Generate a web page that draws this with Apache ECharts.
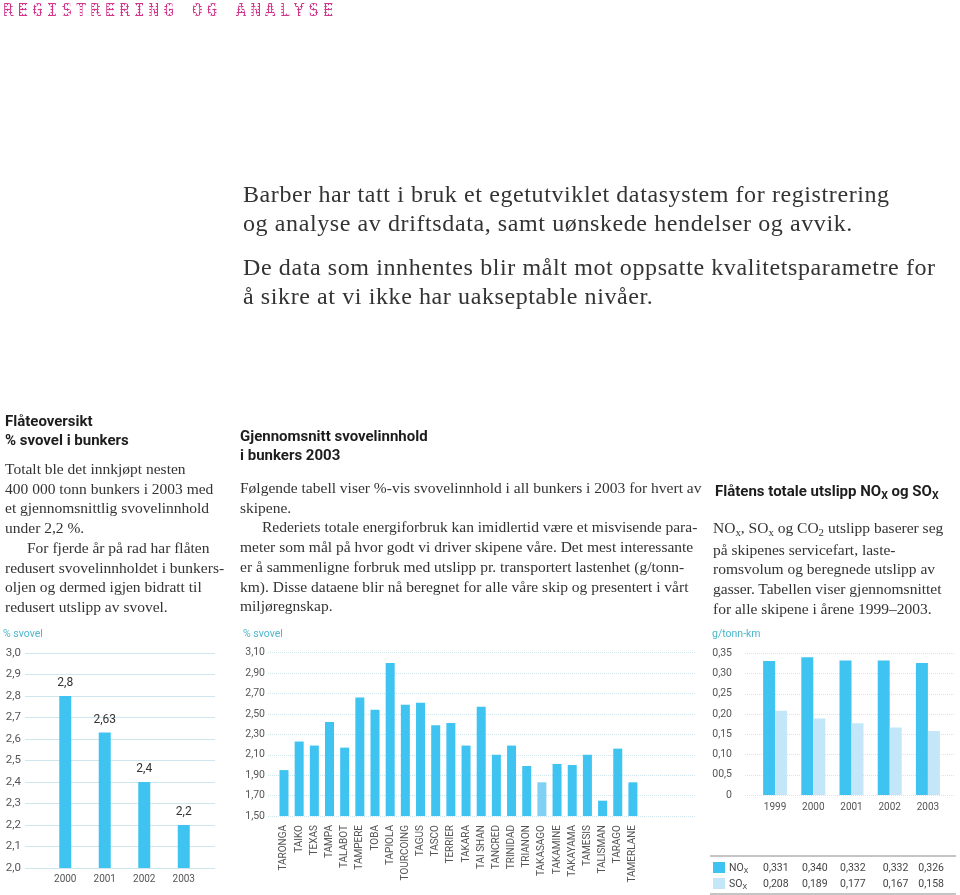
<!DOCTYPE html>
<html>
<head>
<meta charset="utf-8">
<script src="https://cdn.jsdelivr.net/npm/echarts@6.0.0/dist/echarts.min.js"></script>
<style>
  body { margin: 0; background: #fff; }
  #page { position: relative; width: 960px; height: 895px; overflow: hidden; }
  #chart { position: absolute; left: 0; top: 0; width: 960px; height: 895px; }
  .t { position: absolute; white-space: nowrap; }
  .hdr {
    left: 3px; top: -1px; font: bold 18px "DejaVu Sans Mono"; letter-spacing: 3.7px;
    background: radial-gradient(circle, #d2368a 55%, rgba(255,255,255,0) 68%);
    background-size: 3px 3px;
    -webkit-background-clip: text; background-clip: text; color: transparent;
  }
  .intro { font: 24px/28.5px "Liberation Serif"; letter-spacing: 0.6px; color: #333; }
  .head { font: bold 15px/19px Roboto; color: #1d1d1d; }
  .body { font: 15.5px/19.7px "Liberation Serif"; color: #333; }
  .ind { padding-left: 22px; }
  .unit { font: 10.5px Roboto; color: #4db6cc; }
  .sub { font-size: 0.7em; position: relative; top: 0.25em; }
  .tbl { font: 10.5px Roboto; color: #444; }
  .rule { position: absolute; left: 710px; width: 246px; height: 2px; background: #c4c4c4; }
  .sw { position: absolute; width: 12px; height: 11px; }
</style>
</head>
<body>
<div id="page">
  <div id="chart"></div>

  <div class="t hdr">REGISTRERING OG ANALYSE</div>

  <div class="t intro" style="left:243px;top:180px">Barber har tatt i bruk et egetutviklet datasystem for registrering<br>og analyse av driftsdata, samt uønskede hendelser og avvik.</div>
  <div class="t intro" style="left:243px;top:253px">De data som innhentes blir målt mot oppsatte kvalitetsparametre for<br>å sikre at vi ikke har uakseptable nivåer.</div>

  <div class="t head" style="left:5px;top:412px">Flåteoversikt<br>% svovel i bunkers</div>
  <div class="t body" style="left:5px;top:459px">Totalt ble det innkjøpt nesten<br>400 000 tonn bunkers i 2003 med<br>et gjennomsnittlig svovelinnhold<br>under 2,2 %.<br><span class="ind"></span>For fjerde år på rad har flåten<br>redusert svovelinnholdet i bunkers-<br>oljen og dermed igjen bidratt til<br>redusert utslipp av svovel.</div>

  <div class="t head" style="left:240px;top:427px">Gjennomsnitt svovelinnhold<br>i bunkers 2003</div>
  <div class="t body" style="left:240px;top:478px">Følgende tabell viser %-vis svovelinnhold i all bunkers i 2003 for hvert av<br>skipene.<br><span class="ind"></span>Rederiets totale energiforbruk kan imidlertid være et misvisende para-<br>meter som mål på hvor godt vi driver skipene våre. Det mest interessante<br>er å sammenligne forbruk med utslipp pr. transportert lastenhet (g/tonn-<br>km). Disse dataene blir nå beregnet for alle våre skip og presentert i vårt<br>miljøregnskap.</div>

  <div class="t head" style="left:715px;top:482px">Flåtens totale utslipp NO<span class="sub">X</span> og SO<span class="sub">X</span></div>
  <div class="t body" style="left:713px;top:518px">NO<span class="sub">x</span>, SO<span class="sub">x</span> og CO<span class="sub">2</span> utslipp baserer seg<br>på skipenes servicefart, laste-<br>romsvolum og beregnede utslipp av<br>gasser. Tabellen viser gjennomsnittet<br>for alle skipene i årene 1999–2003.</div>

  <div class="t unit" style="left:3px;top:627px">% svovel</div>
  <div class="t unit" style="left:243px;top:627px">% svovel</div>
  <div class="t unit" style="left:712px;top:627px">g/tonn-km</div>

  <div id="table"></div>
</div>

<script>
// flåteoversikt, % svovel i bunkers
var fleetYears = ['2000', '2001', '2002', '2003'];
var fleetSulphur = [2.8, 2.63, 2.4, 2.2];
var fleetTicks = ['2,0', '2,1', '2,2', '2,3', '2,4', '2,5', '2,6', '2,7', '2,8', '2,9', '3,0'];

// gjennomsnitt svovelinnhold pr skip 2003
var ships = ['TARONGA', 'TAIKO', 'TEXAS', 'TAMPA', 'TALABOT', 'TAMPERE', 'TOBA', 'TAPIOLA',
  'TOURCOING', 'TAGUS', 'TASCO', 'TERRIER', 'TAKARA', 'TAI SHAN', 'TANCRED', 'TRINIDAD',
  'TRIANON', 'TAKASAGO', 'TAKAMINE', 'TAKAYAMA', 'TAMESIS', 'TALISMAN', 'TARAGO', 'TAMERLANE'];
var shipSulphur = [1.95, 2.23, 2.19, 2.42, 2.17, 2.66, 2.54, 3.00,
  2.59, 2.61, 2.39, 2.41, 2.19, 2.57, 2.10, 2.19,
  1.99, 1.83, 2.01, 2.00, 2.10, 1.65, 2.16, 1.83];
var shipTicks = ['1,50', '1,70', '1,90', '2,10', '2,30', '2,50', '2,70', '2,90', '3,10'];
var paleShip = 'TAKASAGO';

// utslipp NOx og SOx, g/tonn-km
var emisYears = ['1999', '2000', '2001', '2002', '2003'];
var noxValues = [0.331, 0.340, 0.332, 0.332, 0.326];
var soxValues = [0.208, 0.189, 0.177, 0.167, 0.158];
var emisTicks = ['0', '00,5', '0,10', '0,15', '0,20', '0,25', '0,30', '0,35'];

var blue = '#3fc4f1';
var paleBlue = '#c3e7f8';
var gridCol = '#cfe6ee';
var labelCol = '#555';

function comma(v) { return String(v).replace('.', ','); }

// tabell under NOx/SOx-diagrammet
var colX = [763, 802, 840, 882.7, 918.3];
var html = '<div class="rule" style="top:855px"></div><div class="rule" style="top:893px"></div>';
[['NO', noxValues, blue, 861], ['SO', soxValues, paleBlue, 877]].forEach(function (row) {
  html += '<div class="sw" style="left:713px;top:' + (row[3] + 1) + 'px;background:' + row[2] + '"></div>';
  html += '<div class="t tbl" style="left:729px;top:' + row[3] + 'px">' + row[0] + '<span class="sub">X</span></div>';
  row[1].forEach(function (v, i) {
    html += '<div class="t tbl" style="left:' + colX[i] + 'px;top:' + row[3] + 'px">' + v.toFixed(3).replace('.', ',') + '</div>';
  });
});
document.getElementById('table').innerHTML = html;

var shipData = ships.map(function (name, i) {
  if (name === paleShip) return { value: shipSulphur[i], itemStyle: { color: '#7fd0f2' } };
  return shipSulphur[i];
});

function bgY(idx, ticks, margin, size, dotted) {
  return {
    gridIndex: idx, type: 'category', data: ticks, boundaryGap: false,
    axisLine: { show: false }, axisTick: { show: false },
    axisLabel: { margin: margin, color: labelCol, fontSize: size, fontFamily: 'Roboto' },
    splitLine: { show: true, interval: 0, lineStyle: { color: gridCol, width: 1, type: dotted ? 'dotted' : 'solid' } }
  };
}
function barX(idx, cats, margin, extra) {
  var ax = {
    gridIndex: idx, type: 'category', data: cats,
    axisLine: { show: false }, axisTick: { show: false },
    axisLabel: { margin: margin, color: labelCol, fontSize: 10, fontFamily: 'Roboto', interval: 0 }
  };
  if (extra) Object.assign(ax.axisLabel, extra);
  return ax;
}

var myChart = echarts.init(document.getElementById('chart'));
myChart.setOption({
  animation: false,
  grid: [
    { left: 25, top: 653, width: 190, height: 215 },
    { left: 45.5, top: 653, width: 158, height: 215 },
    { left: 268, top: 652.7, width: 428, height: 163.3 },
    { left: 276.4, top: 652.7, width: 364.1, height: 163.3 },
    { left: 745, top: 653.3, width: 210, height: 141.7 },
    { left: 756, top: 653.3, width: 191, height: 141.7 }
  ],
  xAxis: [
    { gridIndex: 0, type: 'value', show: false },
    barX(1, fleetYears, 6),
    { gridIndex: 2, type: 'value', show: false },
    barX(3, ships, 9, { rotate: 90 }),
    { gridIndex: 4, type: 'value', show: false },
    barX(5, emisYears, 7)
  ],
  yAxis: [
    bgY(0, fleetTicks, 4, 11.5, false),
    { gridIndex: 1, type: 'value', min: 2, max: 3, show: false },
    bgY(2, shipTicks, 3, 10.5, true),
    { gridIndex: 3, type: 'value', min: 1.5, max: 3.1, show: false },
    bgY(4, emisTicks, 13, 10.5, true),
    { gridIndex: 5, type: 'value', min: 0, max: 0.35, show: false }
  ],
  series: [
    {
      type: 'bar', xAxisIndex: 1, yAxisIndex: 1, data: fleetSulphur, barWidth: 12,
      itemStyle: { color: blue },
      label: { show: true, position: 'top', distance: 7, fontSize: 12, fontFamily: 'Roboto', color: '#333',
        formatter: function (p) { return comma(p.value); } }
    },
    {
      type: 'bar', xAxisIndex: 3, yAxisIndex: 3, data: shipData, barWidth: 9,
      itemStyle: { color: blue }
    },
    {
      name: 'NOx', type: 'bar', xAxisIndex: 5, yAxisIndex: 5, data: noxValues, barWidth: 12, barGap: '0%',
      itemStyle: { color: blue }
    },
    {
      name: 'SOx', type: 'bar', xAxisIndex: 5, yAxisIndex: 5, data: soxValues, barWidth: 12, barGap: '0%',
      itemStyle: { color: paleBlue }
    }
  ]
});
</script>
</body>
</html>
